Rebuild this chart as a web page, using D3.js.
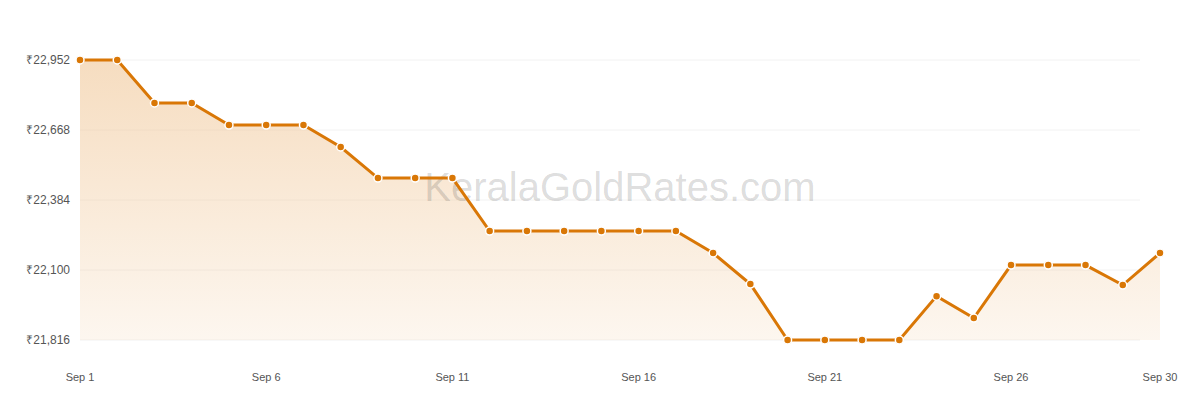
<!DOCTYPE html>
<html>
<head>
<meta charset="UTF-8">
<script src="https://d3js.org/d3.v7.min.js"></script>
<style>
body{margin:0;background:#fff;font-family:Arial, Helvetica, sans-serif;}
</style>
</head>
<body>
<svg id="chart" width="1200" height="400"></svg>
<script>
const days = d3.range(1, 31);
const prices = [22952,22952,22778,22778,22688,22688,22688,22599,22473,22473,22473,22258,
  22258,22258,22258,22258,22258,22169,22043,21816,21816,21816,21816,21994,21905,22120,
  22120,22120,22039,22169];
const yTicks = [21816,22100,22384,22668,22952];
const xTicks = [1,6,11,16,21,26,30];

const svg = d3.select("#chart");
const x = d3.scaleLinear().domain([1,30]).range([80,1160]);
const y = d3.scaleLinear().domain([21816,22952]).range([340,60]);

const defs = svg.append("defs");
const grad = defs.append("linearGradient").attr("id","fade").attr("x1",0).attr("y1",0).attr("x2",0).attr("y2",1);
grad.append("stop").attr("offset","0%").attr("stop-color","#f0c696").attr("stop-opacity",0.6);
grad.append("stop").attr("offset","100%").attr("stop-color","#f0c696").attr("stop-opacity",0.15);

// grid
svg.selectAll("line.grid").data(yTicks).join("line")
  .attr("x1",80).attr("x2",1140)
  .attr("y1",d=>y(d)).attr("y2",d=>y(d))
  .attr("stroke","#f2f2f2");

svg.selectAll("text.ylab").data(yTicks).join("text")
  .attr("x",70).attr("y",d=>y(d)+4).attr("text-anchor","end")
  .attr("font-size",12).attr("fill","#555")
  .text(d=>"₹"+d3.format(",")(d));

svg.selectAll("text.xlab").data(xTicks).join("text")
  .attr("x",d=>x(d)).attr("y",381).attr("text-anchor","middle")
  .attr("font-size",11).attr("fill","#555")
  .text(d=>"Sep "+d);

const data = days.map((d,i)=>({d, v:prices[i]}));

svg.append("path").datum(data)
  .attr("fill","url(#fade)")
  .attr("d", d3.area().x(p=>x(p.d)).y0(340).y1(p=>y(p.v)));

svg.append("text").attr("x",620).attr("y",201).attr("text-anchor","middle")
  .attr("font-size",40).attr("fill","#000").attr("fill-opacity",0.15)
  .text("KeralaGoldRates.com");

svg.append("path").datum(data)
  .attr("fill","none").attr("stroke","#d97706").attr("stroke-width",3)
  .attr("d", d3.line().x(p=>x(p.d)).y(p=>y(p.v)));

svg.selectAll("circle").data(data).join("circle")
  .attr("cx",p=>x(p.d)).attr("cy",p=>y(p.v)).attr("r",4)
  .attr("fill","#d97706").attr("stroke","#fff").attr("stroke-width",1.5);
</script>
</body>
</html>
